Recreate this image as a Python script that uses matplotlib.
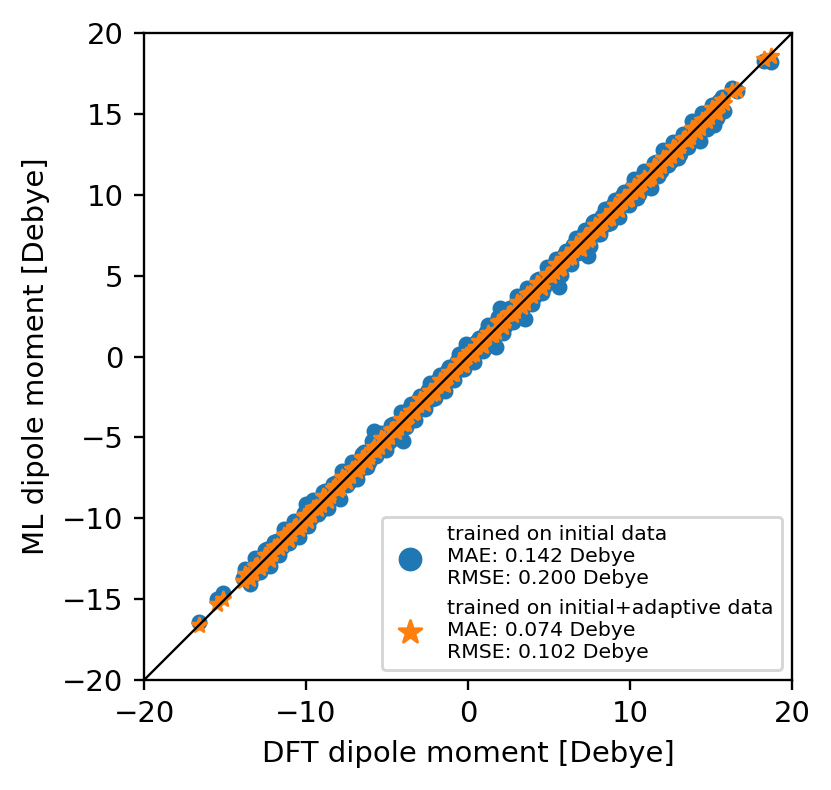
import matplotlib
matplotlib.use("Agg")
import matplotlib.pyplot as plt

# DFT reference dipole moments [Debye]
dft = [-16.6, -15.5, -15.1, -13.9, -13.6, -13.3, -13.0, -12.7, -12.4, -12.1,
       -11.8, -11.5, -11.2, -10.9, -10.6, -10.3, -10.0, -9.7, -9.4, -9.1,
       -8.8, -8.5, -8.2, -7.9, -7.6, -7.3, -7.0, -6.7, -6.4, -6.1,
       -5.8, -5.5, -5.2, -4.9, -4.6, -4.3, -4.0, -3.7, -3.4, -3.1,
       -2.8, -2.5, -2.2, -1.9, -1.6, -1.3, -1.0, -0.7, -0.4, -0.1,
       0.2, 0.5, 0.8, 1.1, 1.4, 1.7, 2.0, 2.3, 2.6, 2.9,
       3.2, 3.5, 3.8, 4.1, 4.4, 4.7, 5.0, 5.3, 5.6, 5.9,
       6.2, 6.5, 6.8, 7.1, 7.4, 7.7, 8.0, 8.3, 8.6, 8.9,
       9.2, 9.5, 9.8, 10.1, 10.4, 10.7, 11.0, 11.3, 11.6, 11.9,
       12.2, 12.5, 12.8, 13.1, 13.4, 13.7, 14.0, 14.3, 14.6, 14.9,
       15.2, 15.5, 15.8, 16.3, 16.6, 18.3, 18.7,
       -13.75, -13.45, -13.15, -12.85, -12.55, -12.25, -11.95, -11.65, -11.35, -11.05,
       -10.75, -10.45, -10.15, -9.85, -9.55, -9.25, -8.95, -8.65, -8.35, -8.05,
       -7.75, -7.45, -7.15, -6.85, -6.55, -6.25, -5.95, -5.65, -5.35, -5.05,
       -4.75, -4.45, -4.15, -3.85, -3.55, -3.25, -2.95, -2.65, -2.35, -2.05,
       -1.75, -1.45, -1.15, -0.85, -0.55, -0.25, 0.05, 0.35, 0.65, 0.95,
       1.25, 1.55, 1.85, 2.15, 2.45, 2.75, 3.05, 3.35, 3.65, 3.95,
       4.25, 4.55, 4.85, 5.15, 5.45, 5.75, 6.05, 6.35, 6.65, 6.95,
       7.25, 7.55, 7.85, 8.15, 8.45, 8.75, 9.05, 9.35, 9.65, 9.95,
       10.25, 10.55, 10.85, 11.15, 11.45, 11.75, 12.05, 12.35, 12.65, 12.95,
       13.25, 13.55, 13.85, 14.15, 14.45, 14.75, 15.05, 15.35, 15.65]

# ML prediction, trained on initial data
ml_initial = [-16.4, -15.0, -14.6, -13.7, -13.2, -13.5, -12.5, -12.9, -11.9, -12.3,
              -11.4, -11.8, -10.8, -11.2, -10.2, -10.6, -9.1, -10.0, -9.0, -9.5,
              -8.3, -8.8, -7.8, -8.8, -7.2, -7.7, -6.6, -7.0, -5.9, -6.5,
              -4.6, -5.8, -4.8, -5.3, -4.2, -4.7, -5.2, -3.3, -3.8, -2.7,
              -3.2, -2.1, -2.6, -1.5, -2.0, -0.9, -1.4, -0.3, -0.8, 0.8,
              -0.2, 0.9, 0.4, 1.5, 1.0, 0.6, 3.0, 1.9, 3.0, 2.5,
              3.6, 2.3, 4.2, 3.7, 4.8, 4.3, 5.4, 4.9, 4.3, 6.3,
              5.8, 6.9, 6.4, 7.5, 6.2, 8.3, 7.6, 8.7, 8.2, 9.3,
              8.8, 9.9, 9.4, 10.5, 9.8, 11.0, 10.6, 10.4, 12.0, 11.5,
              12.6, 12.1, 13.1, 12.5, 13.7, 13.3, 14.3, 13.3, 14.9, 14.5,
              14.3, 15.8, 15.2, 16.6, 16.4, 18.3, 18.2,
              -13.15, -14.05, -12.45, -13.35, -11.95, -12.95, -11.45, -12.25, -10.65, -11.55,
              -10.15, -11.15, -9.65, -10.45, -8.85, -9.75, -8.35, -9.35, -7.85, -8.65,
              -7.05, -7.95, -6.55, -7.55, -6.05, -6.85, -5.25, -6.15, -4.75, -5.75,
              -4.25, -5.05, -3.45, -4.35, -2.95, -3.95, -2.45, -3.25, -1.65, -2.55,
              -1.15, -2.15, -0.65, -1.45, 0.15, -0.75, 0.65, -0.35, 1.15, 0.35,
              1.95, 1.05, 2.45, 1.45, 2.95, 2.15, 3.75, 2.85, 4.25, 3.25,
              4.75, 3.95, 5.55, 4.65, 6.05, 5.05, 6.55, 5.75, 7.35, 6.45,
              7.85, 6.85, 8.35, 7.55, 9.15, 8.25, 9.65, 8.65, 10.15, 9.35,
              10.95, 10.05, 11.45, 10.45, 11.95, 11.15, 12.75, 11.85, 13.25, 12.25,
              13.75, 12.95, 14.55, 13.65, 15.05, 14.05, 15.55, 14.75, 16.05]

# ML prediction, trained on initial + adaptive data
ml_adaptive = [-16.6, -15.3, -15.0, -13.9, -13.5, -13.4, -12.9, -12.8, -12.3, -12.2,
               -11.7, -11.6, -11.0, -11.0, -10.5, -10.4, -9.8, -9.8, -9.3, -9.2,
               -8.7, -8.6, -8.0, -8.1, -7.5, -7.4, -6.9, -6.8, -6.2, -6.2,
               -5.6, -5.6, -5.1, -5.0, -4.5, -4.4, -4.2, -3.6, -3.5, -3.0,
               -2.9, -2.4, -2.3, -1.8, -1.7, -1.2, -1.1, -0.6, -0.5, 0.1,
               0.1, 0.6, 0.7, 1.2, 1.3, 1.5, 2.2, 2.2, 2.7, 2.8,
               3.3, 3.3, 3.9, 4.0, 4.5, 4.6, 5.1, 5.2, 5.4, 6.0,
               6.1, 6.6, 6.7, 7.2, 7.2, 7.8, 7.9, 8.4, 8.5, 9.0,
               9.1, 9.6, 9.7, 10.2, 10.3, 10.8, 10.9, 11.1, 11.7, 11.8,
               12.3, 12.4, 12.9, 13.0, 13.5, 13.6, 14.1, 14.1, 14.7, 14.8,
               15.1, 15.6, 15.7, 16.4, 16.5, 18.4, 18.6,
               -13.45, -13.75, -12.95, -13.05, -12.25, -12.55, -11.75, -11.85, -11.05, -11.35,
               -10.55, -10.65, -9.85, -10.15, -9.35, -9.45, -8.65, -8.95, -8.15, -8.25,
               -7.45, -7.75, -6.95, -7.05, -6.25, -6.55, -5.75, -5.85, -5.05, -5.35,
               -4.55, -4.65, -3.85, -4.15, -3.35, -3.45, -2.65, -2.95, -2.15, -2.25,
               -1.45, -1.75, -0.95, -1.05, -0.25, -0.55, 0.25, 0.15, 0.95, 0.65,
               1.45, 1.35, 2.15, 1.85, 2.65, 2.55, 3.35, 3.05, 3.85, 3.75,
               4.55, 4.25, 5.05, 4.95, 5.75, 5.45, 6.25, 6.15, 6.95, 6.65,
               7.45, 7.35, 8.15, 7.85, 8.65, 8.55, 9.35, 9.05, 9.85, 9.75,
               10.55, 10.25, 11.05, 10.95, 11.75, 11.45, 12.25, 12.15, 12.95, 12.65,
               13.45, 13.35, 14.15, 13.85, 14.65, 14.55, 15.35, 15.05, 15.85]

label_initial = "trained on initial data\nMAE: 0.142 Debye\nRMSE: 0.200 Debye"
label_adaptive = "trained on initial+adaptive data\nMAE: 0.074 Debye\nRMSE: 0.102 Debye"

lims = [-20, 20]
yticks = [-20, -15, -10, -5, 0, 5, 10, 15, 20]
xticks = [-20, -10, 0, 10, 20]

fig = plt.figure(figsize=(831 / 210, 790 / 210), dpi=210)
ax = fig.add_axes([0.1733, 0.1392, 0.7798, 0.8190])

ax.scatter(dft, ml_initial, s=20, color="#1f77b4", label=label_initial)
ax.scatter(dft, ml_adaptive, s=26, marker="*", color="#ff7f0e", label=label_adaptive)
ax.plot(lims, lims, color="black", lw=0.8, zorder=3)

ax.set_xlim(lims)
ax.set_ylim(lims)
ax.set_xticks(xticks)
ax.set_yticks(yticks)
ax.set_xlabel("DFT dipole moment [Debye]")
ax.set_ylabel("ML dipole moment [Debye]")
ax.legend(loc="lower right", fontsize=7, markerscale=1.6)

fig.savefig("out.png", dpi=210)
